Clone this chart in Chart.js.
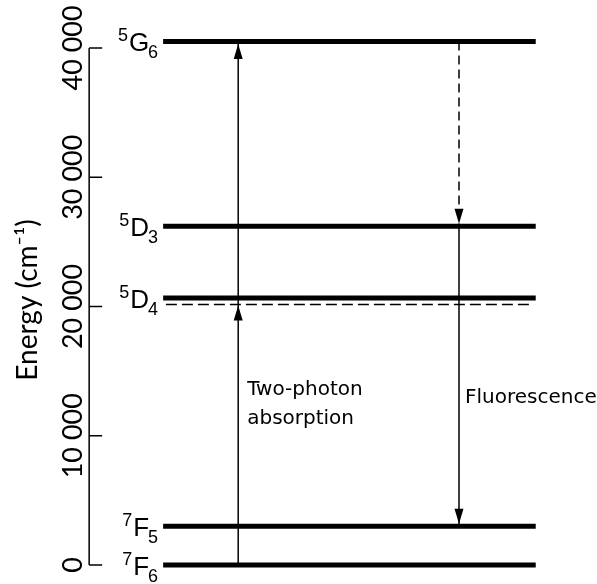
<!DOCTYPE html>
<html><head><meta charset="utf-8">
<script src="https://cdn.jsdelivr.net/npm/chart.js@4.4.1/dist/chart.umd.min.js"></script>
<style>html,body{margin:0;padding:0;background:#fff}</style>
</head><body>
<canvas id="c" width="597" height="584"></canvas>
<script>
// ---- data ----
const levelTerms = ['G', 'D', 'D', 'F', 'F'];
const levelSpin = ['5', '5', '5', '7', '7'];
const levelJ = ['6', '3', '4', '5', '6'];
const levelEnergies = [40500, 26200, 20650, 3000, 0];
const virtualLevel = [20150];
const absorptionFrom = [0, 20150];
const absorptionTo = [20150, 40500];
const relaxationFrom = [40500];
const relaxationTo = [26200];
const emissionFrom = [26200];
const emissionTo = [3000];
const yTickValues = [0, 10000, 20000, 30000, 40000];
const yTickLabels = ['0', '10 000', '20 000', '30 000', '40 000'];
const axisTitle = 'Energy (cm\u207B\u00B9)';
const absorptionLabel = ['Two-photon', 'absorption'];
const fluorescenceLabel = ['Fluorescence'];

// ---- layout (x in hidden-axis units 0..100) ----
const L = {
  axisX: 8, tickLen: 13,
  levelX0: 21.4, levelX1: 88.9,
  virtX0: 21.9, virtX1: 87.9,
  absX: 35, fluX: 75,
  absLabelE: 13150, fluLabelE: 12550
};

const base = { showLine: true, pointRadius: 0, borderColor: '#000', backgroundColor: '#000', clip: false, borderCapStyle: 'butt' };
const datasets = [];
levelEnergies.forEach(E => datasets.push({ ...base, borderWidth: 5, data: [{ x: L.levelX0, y: E }, { x: L.levelX1, y: E }] }));
virtualLevel.forEach(E => datasets.push({ ...base, borderWidth: 1.5, borderDash: [11, 5], data: [{ x: L.virtX0, y: E }, { x: L.virtX1, y: E }] }));
absorptionFrom.forEach((f, i) => datasets.push({ ...base, borderWidth: 1.5, data: [{ x: L.absX, y: f }, { x: L.absX, y: absorptionTo[i] }] }));
relaxationFrom.forEach((f, i) => datasets.push({ ...base, borderWidth: 1.5, borderDash: [9, 5], data: [{ x: L.fluX, y: f }, { x: L.fluX, y: relaxationTo[i] }] }));
emissionFrom.forEach((f, i) => datasets.push({ ...base, borderWidth: 1.5, data: [{ x: L.fluX, y: f }, { x: L.fluX, y: emissionTo[i] }] }));

const decor = {
  id: 'decor',
  afterDatasetsDraw(chart) {
    const { ctx, scales: { x, y } } = chart;
    ctx.save();
    ctx.strokeStyle = '#000'; ctx.fillStyle = '#000';
    // axis
    const ax = x.getPixelForValue(L.axisX);
    ctx.lineWidth = 1.5;
    ctx.beginPath();
    ctx.moveTo(ax, y.getPixelForValue(yTickValues[0]));
    ctx.lineTo(ax, y.getPixelForValue(yTickValues[yTickValues.length - 1]));
    yTickValues.forEach(v => { const p = y.getPixelForValue(v); ctx.moveTo(ax, p); ctx.lineTo(ax + L.tickLen, p); });
    ctx.stroke();
    // tick labels (rotated)
    ctx.font = '27px Lato, "Open Sans", sans-serif';
    ctx.textAlign = 'center'; ctx.textBaseline = 'alphabetic';
    yTickValues.forEach((v, i) => {
      ctx.save();
      ctx.translate(ax - 7, y.getPixelForValue(v));
      ctx.rotate(-Math.PI / 2);
      ctx.fillText(yTickLabels[i], 0, 0);
      ctx.restore();
    });
    // arrowheads
    const thick = E => levelEnergies.includes(E);
    const head = (xp, E, dir) => { // dir -1 up, +1 down
      const off = thick(E) ? 2.5 : 1;
      const tip = y.getPixelForValue(E) - dir * off;
      const b = tip - dir * 15;
      ctx.beginPath(); ctx.moveTo(xp, tip); ctx.lineTo(xp - 4.5, b); ctx.lineTo(xp + 4.5, b); ctx.closePath(); ctx.fill();
    };
    absorptionTo.forEach(E => head(x.getPixelForValue(L.absX), E, -1));
    relaxationTo.forEach(E => head(x.getPixelForValue(L.fluX), E, 1));
    emissionTo.forEach(E => head(x.getPixelForValue(L.fluX), E, 1));
    // level labels
    const right = x.getPixelForValue(L.levelX0) - 5;
    levelEnergies.forEach((E, i) => {
      const p = y.getPixelForValue(E);
      ctx.textAlign = 'left'; ctx.textBaseline = 'alphabetic';
      const fMain = '26px "Liberation Sans", sans-serif';
      const fSmall = '18px "Liberation Sans", sans-serif';
      ctx.font = fSmall; const wSub = ctx.measureText(levelJ[i]).width; const wSup = ctx.measureText(levelSpin[i]).width;
      ctx.font = fMain; const wMain = ctx.measureText(levelTerms[i]).width;
      let xs = right - wSub - wMain - wSup;
      ctx.font = fSmall; ctx.fillText(levelSpin[i], xs, p + 0);
      xs += wSup + 1;
      ctx.font = fMain; ctx.fillText(levelTerms[i], xs, p + 10);
      xs += wMain - 1;
      ctx.font = fSmall; ctx.fillText(levelJ[i], xs, p + 17);
    });
    // transition labels
    ctx.font = '20px "DejaVu Sans", sans-serif';
    ctx.textAlign = 'left';
    const ab = y.getPixelForValue(L.absLabelE);
    absorptionLabel.forEach((t, k) => ctx.fillText(t, x.getPixelForValue(L.absX) + 9, ab + k * 29));
    const fb = y.getPixelForValue(L.fluLabelE);
    fluorescenceLabel.forEach((t, k) => ctx.fillText(t, x.getPixelForValue(L.fluX) + 6, fb + k * 28));
    ctx.restore();
  }
};

new Chart(document.getElementById('c'), {
  type: 'scatter',
  data: { datasets },
  options: {
    responsive: false, animation: false, devicePixelRatio: 1,
    layout: { padding: { left: 8, right: 0, top: 35, bottom: 19 } },
    plugins: { legend: { display: false }, tooltip: { enabled: false } },
    scales: {
      x: { type: 'linear', min: 0, max: 100, display: false },
      y: {
        type: 'linear', min: 0, max: 41000,
        afterFit(s) { s.width = 37; },
        grid: { display: false, drawTicks: false },
        border: { display: false },
        ticks: { display: false },
        title: { display: true, text: axisTitle, color: '#000', font: { family: 'Lato', size: 28 }, padding: { top: 3, bottom: 4 } }
      }
    }
  },
  plugins: [decor]
});
</script>
</body></html>
